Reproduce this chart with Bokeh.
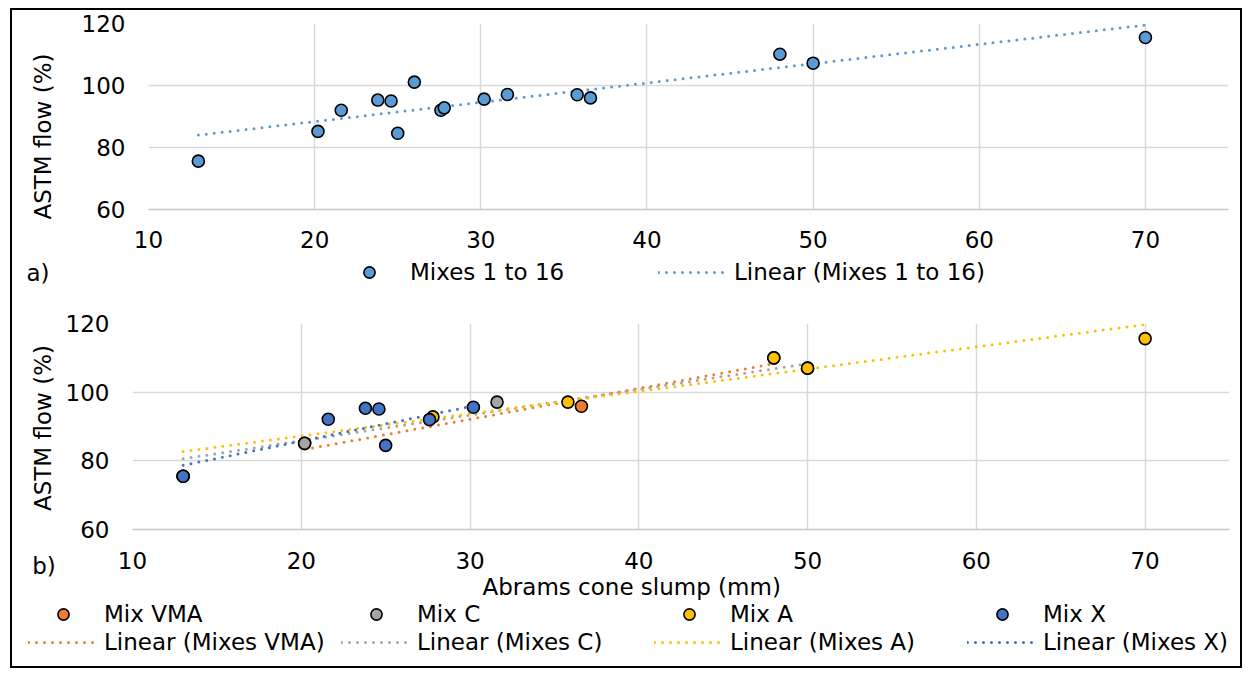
import math
import numpy as np
from bokeh.plotting import figure
from bokeh.models import Range1d, FixedTicker, Legend, LegendItem, Label, Title
from bokeh.layouts import column, row
from bokeh.embed import file_html
from bokeh.resources import INLINE

# ---------------- data ----------------
x_ticks = [10, 20, 30, 40, 50, 60, 70]
y_ticks = [60, 80, 100, 120]

# panel a) all mixes
slump_all = [13.0, 20.2, 21.6, 23.8, 24.6, 25.0, 26.0, 27.6, 27.8, 30.2, 31.6, 35.8, 36.6, 48.0, 50.0, 70.0]
flow_all = [75.6, 85.2, 92.0, 95.3, 95.0, 84.6, 101.1, 92.0, 92.8, 95.6, 97.1, 97.0, 96.0, 110.1, 107.2, 115.5]
trend_all_x = [13.0, 70.0]
trend_all_y = [84.0, 119.5]

# panel b) by mix family
vma_x = [20.2, 36.6, 48.0]
vma_y = [85.1, 95.9, 110.0]
c_x = [13.0, 20.2, 31.6, 50.0]
c_y = [75.5, 85.1, 97.1, 107.0]
a_x = [13.0, 27.8, 35.8, 48.0, 50.0, 70.0]
a_y = [75.5, 92.8, 97.1, 110.0, 107.0, 115.6]
xm_x = [13.0, 21.6, 23.8, 24.6, 25.0, 27.6, 30.2]
xm_y = [75.5, 92.1, 95.3, 95.1, 84.5, 92.0, 95.6]

trend_vma_x = [20.2, 48.0]
trend_vma_y = [83.3, 108.3]
trend_c_x = [13.0, 50.0]
trend_c_y = [80.6, 108.3]
trend_a_x = [13.0, 70.0]
trend_a_y = [82.7, 119.7]
trend_x_x = [13.0, 30.2]
trend_x_y = [78.7, 96.0]

FONT = "DejaVu Sans"
FS = "23px"
GRID = "#D9D9D9"
DOT = "0 8"
MK = dict(size=12, line_color="black", line_width=1.6)
LN = dict(line_width=3, line_dash=DOT, line_cap="round")
NAN = np.array([np.nan])


def make_fig(w, h, left, right, top, bottom, xstand):
    p = figure(width=w, height=h, x_range=Range1d(10, 75), y_range=Range1d(60, 120),
               output_backend="svg", toolbar_location=None,
               min_border_left=left, min_border_right=right,
               min_border_top=top, min_border_bottom=bottom)
    p.outline_line_color = None
    p.background_fill_color = "white"
    p.border_fill_color = "white"
    p.xaxis.ticker = FixedTicker(ticks=x_ticks)
    p.yaxis.ticker = FixedTicker(ticks=y_ticks)
    p.xgrid.ticker = FixedTicker(ticks=x_ticks)
    p.ygrid.ticker = FixedTicker(ticks=y_ticks)
    for g in (p.xgrid, p.ygrid):
        g.grid_line_color = GRID
        g.grid_line_width = 1.5
    for ax in (p.xaxis, p.yaxis):
        ax.major_tick_line_color = None
        ax.minor_tick_line_color = None
        ax.major_tick_out = 0
        ax.major_tick_in = 0
        ax.major_label_text_font = FONT
        ax.major_label_text_font_size = FS
        ax.major_label_text_color = "black"
    p.yaxis.axis_line_color = None
    p.yaxis.major_label_standoff = 23
    p.xaxis.axis_line_color = "#C8C8C8"
    p.xaxis.axis_line_width = 1.5
    p.xaxis.major_label_standoff = xstand
    return p


def strip(w, h):
    s = figure(width=w, height=h, x_range=Range1d(0, w), y_range=Range1d(0, h),
               output_backend="svg", toolbar_location=None,
               x_axis_type=None, y_axis_type=None, title=None,
               min_border=0, min_border_left=0, min_border_right=0,
               min_border_top=0, min_border_bottom=0)
    s.frame_align = False
    s.outline_line_color = None
    s.background_fill_color = "white"
    s.border_fill_color = "white"
    return s


def text(p, s, x, y, angle=0, align="left"):
    p.add_layout(Label(x=x, y=y, text=s, text_font=FONT, text_font_size=FS,
                       text_color="black", text_baseline="middle",
                       text_align=align, angle=angle))


def legend_one(s, label, renderer, vx, vy):
    lg = Legend(items=[LegendItem(label=label, renderers=[renderer])],
                location=(vx, vy), orientation="horizontal",
                glyph_width=70, glyph_height=28, label_height=28,
                label_standoff=6, padding=0, margin=0, spacing=0,
                border_line_alpha=0, background_fill_alpha=0,
                label_text_font=FONT, label_text_font_size=FS,
                label_text_color="black")
    s.add_layout(lg)


# ---------------- panel a ----------------
left1 = strip(54, 246)
text(left1, "ASTM flow (%)", 30, 120, angle=math.pi / 2, align="center")

p1 = make_fig(1174, 246, 82, 12, 13, 47, 21)
p1.line(trend_all_x, trend_all_y, line_color="#5B9BD5", **LN)
p1.scatter(slump_all, flow_all, fill_color="#5B9BD5", **MK)

leg1 = strip(1228, 44)
text(leg1, "a)", 14, 28)
d_s = leg1.scatter(x=NAN, y=NAN, fill_color="#5B9BD5", **MK)
d_l = leg1.line(x=NAN, y=NAN, line_color="#5B9BD5", **LN)
legend_one(leg1, "Mixes 1 to 16", d_s, 322, 14)
legend_one(leg1, "Linear (Mixes 1 to 16)", d_l, 646, 14)

# ---------------- panel b ----------------
left2 = strip(50, 300)
text(left2, "ASTM flow (%)", 30.5, 172.5, angle=math.pi / 2, align="center")
text(left2, "b)", 19.7, 35)

p2 = make_fig(1178, 300, 70, 11, 23, 71, 22)
series = [
    ("Mix VMA", "Linear (Mixes VMA)", "#ED7D31", vma_x, vma_y, trend_vma_x, trend_vma_y),
    ("Mix C", "Linear (Mixes C)", "#A5A5A5", c_x, c_y, trend_c_x, trend_c_y),
    ("Mix A", "Linear (Mixes A)", "#FFC000", a_x, a_y, trend_a_x, trend_a_y),
    ("Mix X", "Linear (Mixes X)", "#4472C4", xm_x, xm_y, trend_x_x, trend_x_y),
]
for name, lname, col, xs, ys, tx, ty in series:
    p2.line(tx, ty, line_color=col, **LN)
for name, lname, col, xs, ys, tx, ty in series:
    p2.scatter(xs, ys, fill_color=col, **MK)
p2.add_layout(Title(text="Abrams cone slump (mm)", align="left", offset=350,
                    text_font=FONT, text_font_size=FS, text_font_style="normal",
                    text_color="black", standoff=0), "below")

leg2 = strip(1228, 66)
col_x = [16, 329, 642, 955]
for i, (name, lname, col, xs, ys, tx, ty) in enumerate(series):
    ds = leg2.scatter(x=NAN, y=NAN, fill_color=col, **MK)
    dl = leg2.line(x=NAN, y=NAN, line_color=col, **LN)
    legend_one(leg2, name, ds, col_x[i], 38)
    legend_one(leg2, lname, dl, col_x[i], 10)

layout = column(row(left1, p1), leg1, row(left2, p2), leg2,
                styles={"border": "2px solid black", "margin-left": "10px",
                        "margin-top": "8px", "background-color": "white"})

open("out.html", "w").write(file_html(layout, INLINE))
